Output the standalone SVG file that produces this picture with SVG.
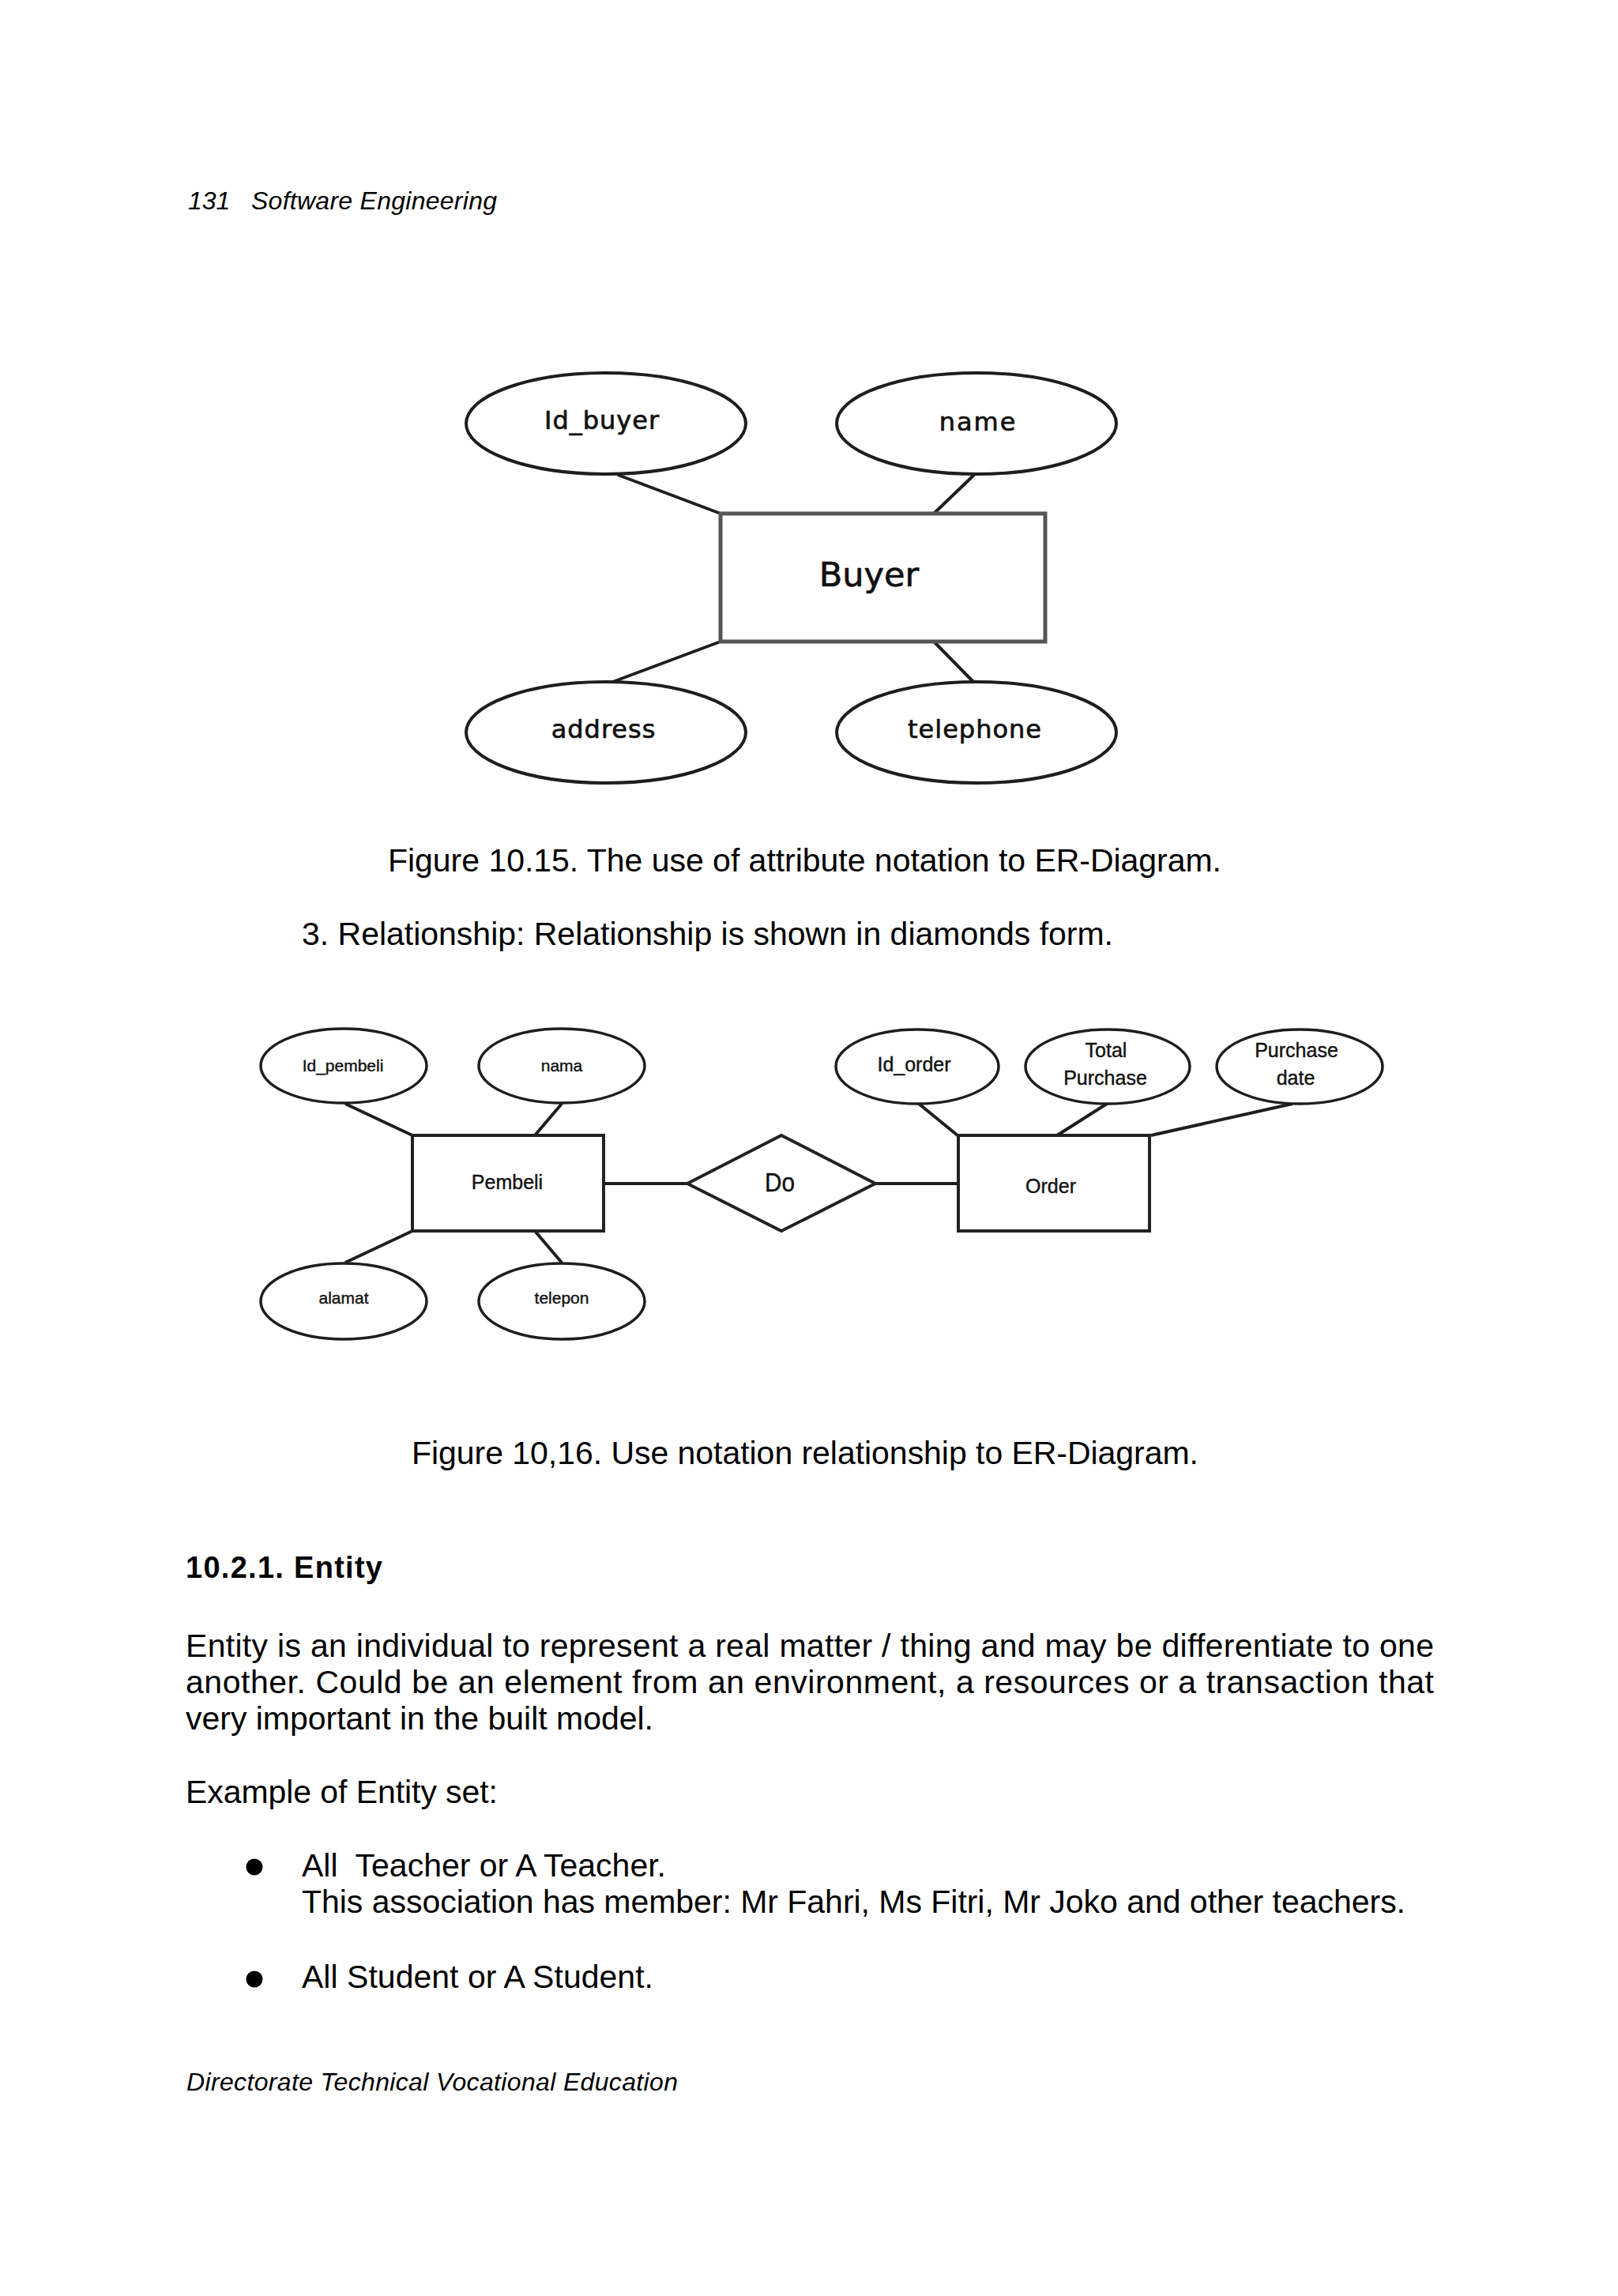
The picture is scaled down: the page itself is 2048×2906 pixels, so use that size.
<svg xmlns="http://www.w3.org/2000/svg" width="2048" height="2906" viewBox="0 0 2048 2906">
<style>
.pg{font-family:"Liberation Sans",Arial,sans-serif;fill:#000}
.body{font-size:41px}
.it{font-style:italic;font-size:32px}
.att1{fill:#fff;stroke:#1e1e1e;stroke-width:4}
.ent1{fill:#fff;stroke:#555;stroke-width:5}
.lbl1{font-family:"DejaVu Sans",Verdana,sans-serif;fill:#111;stroke:#111;stroke-width:0.7;text-anchor:middle}
.att2{fill:#fff;stroke:#1e1e1e;stroke-width:3.5}
.ent2{fill:#fff;stroke:#222;stroke-width:4}
.lbl2{font-family:"Liberation Sans",Arial,sans-serif;fill:#111;stroke:#111;stroke-width:0.4;text-anchor:middle}
.con{stroke:#1e1e1e;stroke-width:4;fill:none}
</style>
<rect width="2048" height="2906" fill="#fff"/>

<g id="page-text" class="pg">
<text class="it" x="238" y="265">131</text>
<text class="it" x="318" y="265" textLength="311" lengthAdjust="spacing">Software Engineering</text>
<text class="body" x="491" y="1103" textLength="1055" lengthAdjust="spacing">Figure 10.15. The use of attribute notation to ER-Diagram.</text>
<text class="body" x="382" y="1196" textLength="1027" lengthAdjust="spacing">3. Relationship: Relationship is shown in diamonds form.</text>
<text class="body" x="521" y="1853" textLength="996" lengthAdjust="spacing">Figure 10,16. Use notation relationship to ER-Diagram.</text>
<text x="235" y="1997" font-size="38" font-weight="bold" textLength="249" lengthAdjust="spacing">10.2.1. Entity</text>
<text class="body" x="235" y="2097" textLength="1580" lengthAdjust="spacing">Entity is an individual to represent a real matter / thing and may be differentiate to one</text>
<text class="body" x="235" y="2143" textLength="1580" lengthAdjust="spacing">another. Could be an element from an environment, a resources or a transaction that</text>
<text class="body" x="235" y="2189" textLength="592" lengthAdjust="spacing">very important in the built model.</text>
<text class="body" x="235" y="2282" textLength="395" lengthAdjust="spacing">Example of Entity set:</text>
<circle cx="322" cy="2363" r="10.5"/>
<text class="body" x="382" y="2375" xml:space="preserve" textLength="461" lengthAdjust="spacing">All  Teacher or A Teacher.</text>
<text class="body" x="382" y="2421" textLength="1397" lengthAdjust="spacing">This association has member: Mr Fahri, Ms Fitri, Mr Joko and other teachers.</text>
<circle cx="322" cy="2505" r="10.5"/>
<text class="body" x="382" y="2516" textLength="445" lengthAdjust="spacing">All Student or A Student.</text>
<text class="it" x="236" y="2646" textLength="622" lengthAdjust="spacing">Directorate Technical Vocational Education</text>
</g>

<g id="connectors">
<line class="con" x1="782" y1="601" x2="912" y2="650"/>
<line class="con" x1="1233" y1="601" x2="1182" y2="650"/>
<line class="con" x1="912" y1="812" x2="773" y2="864"/>
<line class="con" x1="1182" y1="812" x2="1233" y2="864"/>
<line class="con" stroke-width="3.5" x1="437" y1="1397" x2="522" y2="1437"/>
<line class="con" stroke-width="3.5" x1="711" y1="1397" x2="677" y2="1437"/>
<line class="con" stroke-width="3.5" x1="522" y1="1558" x2="437" y2="1598"/>
<line class="con" stroke-width="3.5" x1="677" y1="1558" x2="711" y2="1598"/>
<line class="con" stroke-width="5" x1="764" y1="1498" x2="870" y2="1498"/>
<line class="con" stroke-width="5" x1="1108" y1="1498" x2="1213" y2="1498"/>
<line class="con" stroke-width="3.5" x1="1163" y1="1397" x2="1212" y2="1437"/>
<line class="con" stroke-width="3.5" x1="1401" y1="1397" x2="1338" y2="1437"/>
<line class="con" stroke-width="3.5" x1="1636" y1="1397" x2="1457" y2="1437"/>
</g>

<g id="buyer">
<rect class="ent1" x="912" y="650" width="411" height="162"/>
<text class="lbl1" x="1100" y="742" style="font-size:43px">Buyer</text>
</g>
<g id="id_buyer">
<ellipse class="att1" cx="767" cy="536" rx="177" ry="64"/>
<text class="lbl1" x="762" y="543" style="font-size:32px" letter-spacing="1">Id_buyer</text>
</g>
<g id="name">
<ellipse class="att1" cx="1236" cy="536" rx="177" ry="64"/>
<text class="lbl1" x="1238" y="545" style="font-size:32px" letter-spacing="2">name</text>
</g>
<g id="address">
<ellipse class="att1" cx="767" cy="927" rx="177" ry="64"/>
<text class="lbl1" x="764" y="934" style="font-size:32px" letter-spacing="1">address</text>
</g>
<g id="telephone">
<ellipse class="att1" cx="1236" cy="927" rx="177" ry="64"/>
<text class="lbl1" x="1234" y="934" style="font-size:32px" letter-spacing="1">telephone</text>
</g>

<g id="pembeli">
<rect class="ent2" x="522" y="1437" width="242" height="121"/>
<text class="lbl2" x="642" y="1505" font-size="25">Pembeli</text>
</g>
<g id="id_pembeli">
<ellipse class="att2" cx="435" cy="1349" rx="105" ry="47"/>
<text class="lbl2" x="434" y="1356" font-size="21">Id_pembeli</text>
</g>
<g id="nama">
<ellipse class="att2" cx="711" cy="1349" rx="105" ry="47"/>
<text class="lbl2" x="711" y="1356" font-size="21">nama</text>
</g>
<g id="alamat">
<ellipse class="att2" cx="435" cy="1647" rx="105" ry="48"/>
<text class="lbl2" x="435" y="1650" font-size="21">alamat</text>
</g>
<g id="telepon">
<ellipse class="att2" cx="711" cy="1647" rx="105" ry="48"/>
<text class="lbl2" x="711" y="1650" font-size="21">telepon</text>
</g>
<g id="do">
<polygon class="ent2" stroke-width="3.5" points="870,1498 989,1437 1108,1498 989,1558"/>
<text class="lbl2" x="987" y="1508" font-size="33" textLength="38" lengthAdjust="spacingAndGlyphs">Do</text>
</g>
<g id="order">
<rect class="ent2" x="1213" y="1437" width="242" height="121"/>
<text class="lbl2" x="1330" y="1510" font-size="25">Order</text>
</g>
<g id="id_order">
<ellipse class="att2" cx="1161" cy="1350" rx="103" ry="47"/>
<text class="lbl2" x="1157" y="1356" font-size="25">Id_order</text>
</g>
<g id="total_purchase">
<ellipse class="att2" cx="1402" cy="1350" rx="104" ry="47"/>
<text class="lbl2" x="1400" y="1338" font-size="25">Total</text>
<text class="lbl2" x="1399" y="1373" font-size="25">Purchase</text>
</g>
<g id="purchase_date">
<ellipse class="att2" cx="1645" cy="1350" rx="105" ry="47"/>
<text class="lbl2" x="1641" y="1338" font-size="25">Purchase</text>
<text class="lbl2" x="1640" y="1373" font-size="25">date</text>
</g>
</svg>
